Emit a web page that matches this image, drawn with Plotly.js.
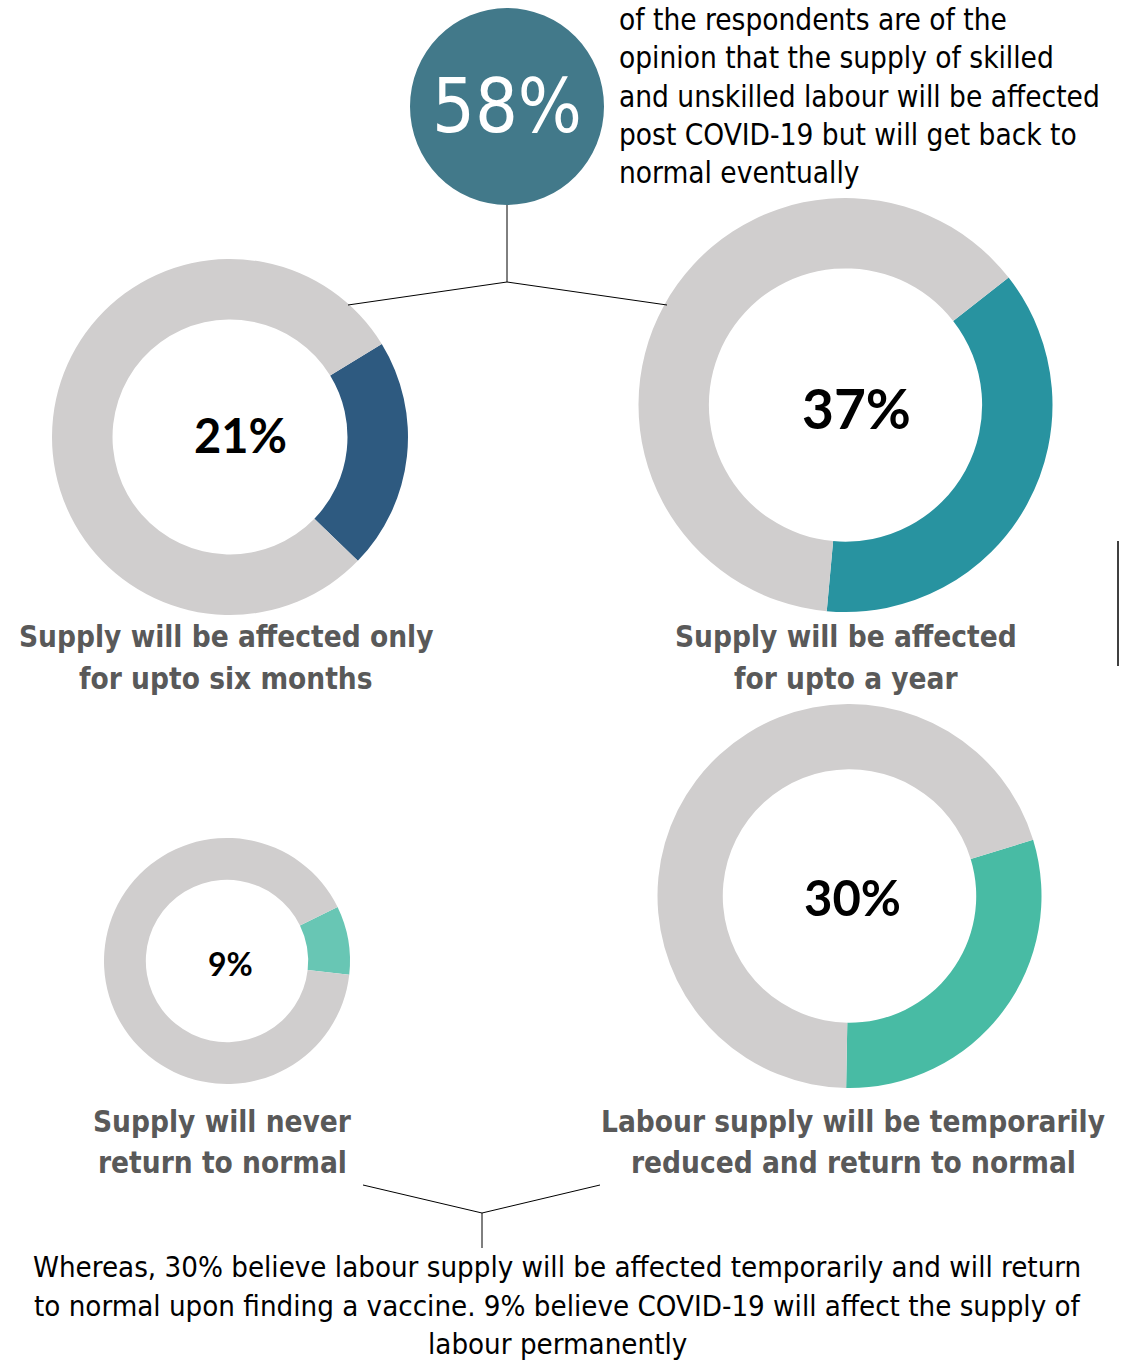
<!DOCTYPE html>
<html><head><meta charset="utf-8">
<script src="https://cdn.plot.ly/plotly-3.0.1.min.js"></script>
<style>html,body{margin:0;padding:0;background:#fff}#chart{width:1126px;height:1360px}</style>
</head><body><div id="chart"></div>
<script>
// ---- data ----
const categories = ["Supply will be affected only for upto six months", "Supply will be affected for upto a year", "Supply will never return to normal", "Labour supply will be temporarily reduced and return to normal"];
const shares = [21, 37, 9, 30];
const shareLabels = ["21%", "37%", "9%", "30%"];
const headline = "58%";
const headlineLines = ["of the respondents are of the", "opinion that the supply of skilled", "and unskilled labour will be affected", "post COVID-19 but will get back to", "normal eventually"];
const captionLines = [["Supply will be affected only", "for upto six months"], ["Supply will be affected", "for upto a year"], ["Supply will never", "return to normal"], ["Labour supply will be temporarily", "reduced and return to normal"]];
const footerLines = ["Whereas, 30% believe labour supply will be affected temporarily and will return", "to normal upon finding a vaccine. 9% believe COVID-19 will affect the supply of", "labour permanently"];

// ---- layout / style ----
const W = 1126, H = 1360;
const colors = ["#2e5a80", "#2893a0", "#68c6b4", "#48bba4"];
const grey = "#d0cece";
const donuts = [ // cx, cy, r, rotation, label size
  {cx: 230, cy: 437, r: 178, rot: 58.5, fs: 47, lx: 240, ly: 435},
  {cx: 845.5, cy: 405, r: 207, rot: 52, fs: 55, lx: 856, ly: 408},
  {cx: 227, cy: 961, r: 123, rot: 64, fs: 32, lx: 230, ly: 963},
  {cx: 849.5, cy: 896, r: 192, rot: 73, fs: 49, lx: 852, ly: 897}
];
const capPos = [{x: 226, y: [637, 679]}, {x: 846, y: [637, 679]}, {x: 222, y: [1122, 1163]}, {x: 853, y: [1122, 1163]}];

const NARROW = "'Liberation Sans Narrow', 'DejaVu Sans Condensed', Arial, sans-serif";
const BOLD = "Lato, 'Open Sans', sans-serif";

const traces = shares.map((v, i) => {
  const d = donuts[i];
  return {
    type: "pie",
    values: [v, 100 - v],
    labels: [categories[i], "Other"],
    marker: {colors: [colors[i], grey], line: {width: 0}},
    hole: 0.66,
    sort: false,
    direction: "clockwise",
    rotation: d.rot,
    textinfo: "none",
    hoverinfo: "label+value",
    showlegend: false,
    domain: {x: [(d.cx - d.r) / W, (d.cx + d.r) / W], y: [1 - (d.cy + d.r) / H, 1 - (d.cy - d.r) / H]}
  };
});

const ann = [];
shareLabels.forEach((t, i) => {
  const d = donuts[i];
  ann.push({x: d.lx, y: d.ly, xref: "x", yref: "y", text: "<b>" + t + "</b>", showarrow: false,
    font: {family: BOLD, size: d.fs, color: "#000"}, xanchor: "center", yanchor: "middle"});
});
ann.push({x: 507, y: 106, xref: "x", yref: "y", text: headline, showarrow: false,
  font: {family: NARROW, size: 75, color: "#fff"}, xanchor: "center", yanchor: "middle"});
const hy = [20, 58, 97, 135, 173];
headlineLines.forEach((t, i) => ann.push({x: 617, y: hy[i], xref: "x", yref: "y", text: t, showarrow: false,
  font: {family: NARROW, size: 29.5, color: "#000"}, xanchor: "left", yanchor: "middle"}));
captionLines.forEach((ls, i) => ls.forEach((t, j) => ann.push({x: capPos[i].x, y: capPos[i].y[j], xref: "x", yref: "y",
  text: "<b>" + t + "</b>", showarrow: false, font: {family: NARROW, size: 29.5, color: "#595959"}, xanchor: "center", yanchor: "middle"})));
const fy = [1267, 1306, 1344];
footerLines.forEach((t, i) => ann.push({x: 557, y: fy[i], xref: "x", yref: "y", text: t, showarrow: false,
  font: {family: NARROW, size: 29.2, color: "#000"}, xanchor: "center", yanchor: "middle"}));

const ln = {color: "#000", width: 1};
const shapes = [
  {type: "circle", xref: "x", yref: "y", x0: 410, x1: 604, y0: 8, y1: 205, fillcolor: "#42798a", line: {width: 0}},
  {type: "line", xref: "x", yref: "y", x0: 507, y0: 205, x1: 507, y1: 282, line: ln},
  {type: "line", xref: "x", yref: "y", x0: 507, y0: 282, x1: 348, y1: 305, line: ln},
  {type: "line", xref: "x", yref: "y", x0: 507, y0: 282, x1: 667, y1: 305, line: ln},
  {type: "line", xref: "x", yref: "y", x0: 363, y0: 1185, x1: 482, y1: 1213, line: ln},
  {type: "line", xref: "x", yref: "y", x0: 600, y0: 1185, x1: 482, y1: 1213, line: ln},
  {type: "line", xref: "x", yref: "y", x0: 482, y0: 1213, x1: 482, y1: 1248, line: ln},
  {type: "line", xref: "x", yref: "y", x0: 1118, y0: 541, x1: 1118, y1: 666, line: {color: "#000", width: 1.5}}
];

const layout = {
  width: W, height: H, margin: {l: 0, r: 0, t: 0, b: 0},
  paper_bgcolor: "#fff", plot_bgcolor: "rgba(0,0,0,0)",
  xaxis: {range: [0, W], visible: false, fixedrange: true},
  yaxis: {range: [H, 0], visible: false, fixedrange: true},
  annotations: ann, shapes: shapes, showlegend: false
};
Plotly.newPlot("chart", traces, layout, {displayModeBar: false, staticPlot: true});
</script></body></html>
